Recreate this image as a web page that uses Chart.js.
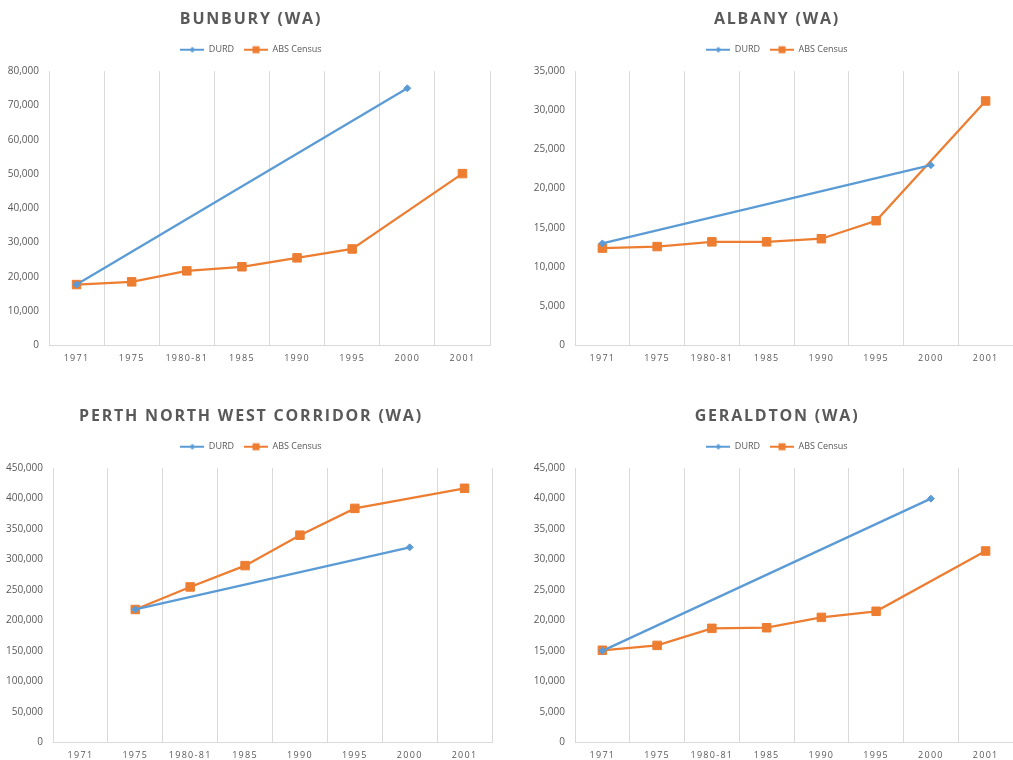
<!DOCTYPE html>
<html>
<head>
<meta charset="utf-8">
<script src="https://cdn.jsdelivr.net/npm/chart.js@4"></script>
<style>
  html, body { margin: 0; padding: 0; background: #fff; }
  body { width: 1013px; height: 760px; overflow: hidden; position: relative; }
  canvas { position: absolute; }
</style>
</head>
<body>
<canvas id="bunbury" width="506" height="373" style="left:0;top:0"></canvas>
<canvas id="albany" width="507" height="373" style="left:506px;top:0"></canvas>
<canvas id="perth" width="506" height="373" style="left:0;top:397px"></canvas>
<canvas id="geraldton" width="507" height="373" style="left:506px;top:397px"></canvas>
<script>
// Census years shared by all four panels
const years = ['1971', '1975', '1980-81', '1985', '1990', '1995', '2000', '2001'];

// Population: DURD projections vs ABS Census counts
const bunburyDurd = [17700, null, null, null, null, null, 75000, null];
const bunburyAbs  = [17700, 18500, 21700, 22900, 25500, 28100, null, 50100];

const albanyDurd = [13000, null, null, null, null, null, 23000, null];
const albanyAbs  = [12400, 12600, 13200, 13200, 13600, 15900, null, 31200];

const perthDurd = [null, 218000, null, null, null, null, 320000, null];
const perthAbs  = [null, 218000, 255000, 290000, 340000, 384000, null, 417000];

const geraldtonDurd = [15000, null, null, null, null, null, 40000, null];
const geraldtonAbs  = [15100, 15900, 18700, 18800, 20500, 21500, null, 31400];

// Y-axis ranges
const yMaxes = { bunbury: 80000, albany: 35000, perth: 450000, geraldton: 45000 };
const ySteps = { bunbury: 10000, albany: 5000, perth: 50000, geraldton: 5000 };

const BLUE = '#5B9BD5';
const ORANGE = '#ED7D31';
const TEXT = '#595959';
const GRID = '#D9D9D9';

// Legend swatch: a short line with the series marker in the middle
function swatch(color, shape) {
  const c = document.createElement('canvas');
  c.width = 24; c.height = 10;
  const g = c.getContext('2d');
  g.strokeStyle = color; g.lineWidth = 2;
  g.beginPath(); g.moveTo(0, 5); g.lineTo(24, 5); g.stroke();
  g.fillStyle = color;
  if (shape === 'diamond') {
    g.beginPath(); g.moveTo(12, 2); g.lineTo(15, 5); g.lineTo(12, 8); g.lineTo(9, 5); g.closePath(); g.fill();
  } else {
    g.fillRect(8.5, 1.5, 7, 7);
  }
  return c;
}
const durdSwatch = swatch(BLUE, 'diamond');
const absSwatch = swatch(ORANGE, 'square');

// Spaced lettering for the title and category labels, extra room under the legend,
// and y labels allowed to spill left of the (fixed-width) axis box
const spacingPlugin = {
  id: 'spacing',
  beforeInit(chart) {
    const lg = chart.legend;
    if (lg) {
      const fit = lg.fit;
      lg.fit = function () { fit.call(this); this.height += 7; };
    }
    const tb = chart.titleBlock;
    if (tb) {
      const draw = tb.draw;
      tb.draw = function () {
        const ctx = this.ctx; ctx.save(); ctx.letterSpacing = '1.8px';
        draw.apply(this, arguments); ctx.restore();
      };
    }
  },
  beforeDraw(chart) {
    const sx = chart.scales.x;
    if (sx && !sx._spaced) {
      const dl = sx.drawLabels;
      sx.drawLabels = function () {
        const ctx = this.ctx; ctx.save(); ctx.letterSpacing = '1.3px';
        dl.apply(this, arguments); ctx.restore();
      };
      sx._spaced = true;
    }
    const sy = chart.scales.y;
    if (sy) sy._computeLabelArea = () => undefined;
  }
};

function makeChart(id, title, durd, abs, yMax, yStep, box) {
  return new Chart(document.getElementById(id), {
    type: 'line',
    data: {
      labels: years,
      datasets: [
        {
          label: 'DURD', data: durd, borderColor: BLUE, backgroundColor: BLUE,
          borderWidth: 2.25, pointStyle: 'rectRot', pointRadius: 3.5,
          pointBackgroundColor: BLUE, pointBorderColor: BLUE, pointBorderWidth: 1,
          spanGaps: true, tension: 0
        },
        {
          label: 'ABS Census', data: abs, borderColor: ORANGE, backgroundColor: ORANGE,
          borderWidth: 2.25, pointStyle: 'rect', pointRadius: 6,
          pointBackgroundColor: ORANGE, pointBorderColor: ORANGE, pointBorderWidth: 1,
          spanGaps: true, tension: 0
        }
      ]
    },
    options: {
      responsive: false,
      animation: false,
      layout: { autoPadding: false, padding: { left: box.left, right: box.right, top: 0, bottom: 1 } },
      plugins: {
        tooltip: { enabled: false },
        title: {
          display: true, text: title, color: TEXT,
          font: { family: '"Open Sans", sans-serif', size: 16, weight: 'bold', lineHeight: 1.2 },
          padding: { top: 10, bottom: 6 }
        },
        legend: {
          display: true, position: 'top',
          labels: {
            color: TEXT, usePointStyle: true, pointStyleWidth: 24, padding: 10,
            font: { family: '"Open Sans", sans-serif', size: 9 },
            generateLabels(chart) {
              const items = Chart.defaults.plugins.legend.labels.generateLabels(chart);
              items.forEach((it, i) => { it.pointStyle = i === 0 ? durdSwatch : absSwatch; });
              return items;
            }
          }
        }
      },
      scales: {
        x: {
          offset: true,
          grid: { display: true, offset: true, color: GRID, lineWidth: 1, drawTicks: false },
          border: { display: true, color: GRID, width: 1 },
          afterFit(scale) { scale.paddingLeft = 0; scale.paddingRight = 0; },
          ticks: {
            color: TEXT, padding: 8, maxRotation: 0, autoSkip: false,
            font: { family: '"Open Sans", sans-serif', size: 9 }
          }
        },
        y: {
          min: 0, max: yMax,
          grid: { display: false, drawTicks: false },
          border: { display: false },
          afterFit(scale) { scale.width = box.yWidth; },
          ticks: {
            stepSize: yStep, color: TEXT, padding: 10,
            font: { family: '"Open Sans", sans-serif', size: 10 },
            callback: (v) => Number(v).toLocaleString('en-US')
          }
        }
      }
    },
    plugins: [spacingPlugin]
  });
}

makeChart('bunbury', 'BUNBURY (WA)', bunburyDurd, bunburyAbs,
  yMaxes.bunbury, ySteps.bunbury, { left: 12, right: 16, yWidth: 37 });
makeChart('albany', 'ALBANY (WA)', albanyDurd, albanyAbs,
  yMaxes.albany, ySteps.albany, { left: 35, right: 0, yWidth: 34 });
makeChart('perth', 'PERTH NORTH WEST CORRIDOR (WA)', perthDurd, perthAbs,
  yMaxes.perth, ySteps.perth, { left: 10, right: 14, yWidth: 43 });
makeChart('geraldton', 'GERALDTON (WA)', geraldtonDurd, geraldtonAbs,
  yMaxes.geraldton, ySteps.geraldton, { left: 35, right: 0, yWidth: 34 });
</script>
</body>
</html>
